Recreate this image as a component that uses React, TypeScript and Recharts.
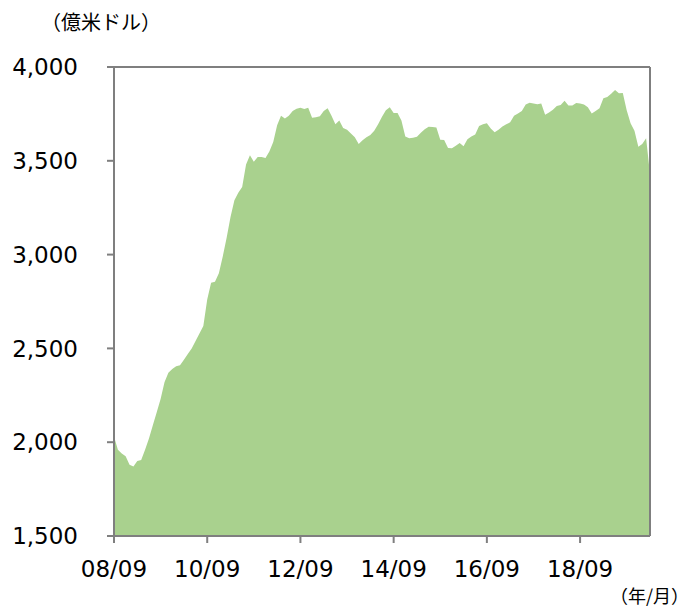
import { AreaChart, Area, XAxis, YAxis, ReferenceLine } from 'recharts'

// monthly reserves from 2008/09 to 2020/03 (100 million USD)
const startYear = 2008
const startMonth = 9

const reserves = [
  2030, 1960, 1940, 1925, 1880, 1870, 1900, 1905, 1960, 2020,
  2090, 2160, 2230, 2320, 2370, 2390, 2405, 2410, 2440, 2470,
  2500, 2540, 2580, 2620, 2760, 2850, 2855, 2900, 2990, 3090,
  3200, 3290, 3330, 3360, 3480, 3530, 3495, 3520, 3520, 3515,
  3550, 3600, 3690, 3740, 3725, 3740, 3765, 3778, 3783, 3776,
  3783, 3730, 3732, 3738, 3765, 3780, 3740, 3695, 3715, 3675,
  3665, 3645, 3625, 3590, 3610, 3625, 3638, 3660, 3695, 3735,
  3770, 3785, 3755, 3755, 3715, 3630, 3620, 3623, 3628, 3650,
  3668, 3682, 3680, 3678, 3612, 3611, 3568, 3567, 3580, 3595,
  3578, 3615, 3630, 3640, 3685, 3695, 3700, 3672, 3652, 3665,
  3683, 3695, 3705, 3740, 3752, 3765, 3800, 3810, 3805, 3801,
  3806, 3745, 3758, 3772, 3792, 3797, 3820, 3795, 3795, 3808,
  3805, 3800, 3785, 3752, 3765, 3780, 3833, 3840, 3858, 3877,
  3860, 3862, 3770, 3700, 3660, 3575, 3590, 3620, 3430,
]

const months = reserves.map((_, i) => {
  const m = startMonth - 1 + i
  const y = (startYear + Math.floor(m / 12)) % 100
  return `${String(y).padStart(2, '0')}/${String((m % 12) + 1).padStart(2, '0')}`
})

const xTicks = ['08/09', '10/09', '12/09', '14/09', '16/09', '18/09']
const yTicks = [1500, 2000, 2500, 3000, 3500, 4000]

const data = months.map((name, i) => ({ name, value: reserves[i] }))

const axisColor = '#7f7f7f'
const font = '"DejaVu Sans", Verdana, sans-serif'
const cjkFont = '"Noto Sans CJK JP", sans-serif'

export default function App() {
  return (
    <div style={{ position: 'relative', width: 675, height: 599 }}>
      <div style={{ position: 'absolute', left: 33, top: 4, fontFamily: cjkFont, fontSize: 20, lineHeight: 1, color: '#000', whiteSpace: 'nowrap' }}>
        （億米ドル）
      </div>
      <AreaChart
        width={675}
        height={590}
        data={data}
        margin={{ top: 59, right: 33, left: 46, bottom: 2 }}
      >
        <XAxis
          dataKey="name"
          ticks={xTicks}
          interval={0}
          height={60}
          tickSize={7}
          tickMargin={18}
          axisLine={{ stroke: axisColor, strokeWidth: 2 }}
          tickLine={{ stroke: axisColor, strokeWidth: 2 }}
          tick={{ fill: '#000', fontSize: 23, fontFamily: font }}
        />
        <YAxis
          domain={[1500, 4000]}
          ticks={yTicks}
          width={60}
          tickSize={7}
          tickMargin={29}
          allowDataOverflow
          tickFormatter={(v: number) => v.toLocaleString('en-US')}
          axisLine={{ stroke: axisColor, strokeWidth: 2 }}
          tickLine={{ stroke: axisColor, strokeWidth: 2 }}
          tick={{ fill: '#000', fontSize: 23, fontFamily: font }}
        />
        <Area
          type="linear"
          dataKey="value"
          stroke="none"
          fill="#a9d18e"
          fillOpacity={1}
          isAnimationActive={false}
        />
        <ReferenceLine y={4000} stroke={axisColor} strokeWidth={2} />
        <ReferenceLine x={months[months.length - 1]} stroke={axisColor} strokeWidth={2} />
      </AreaChart>
      <div style={{ position: 'absolute', left: 602, top: 578, fontFamily: cjkFont, fontSize: 18, lineHeight: 1, color: '#000', whiteSpace: 'nowrap' }}>
        （年/月）
      </div>
    </div>
  )
}
